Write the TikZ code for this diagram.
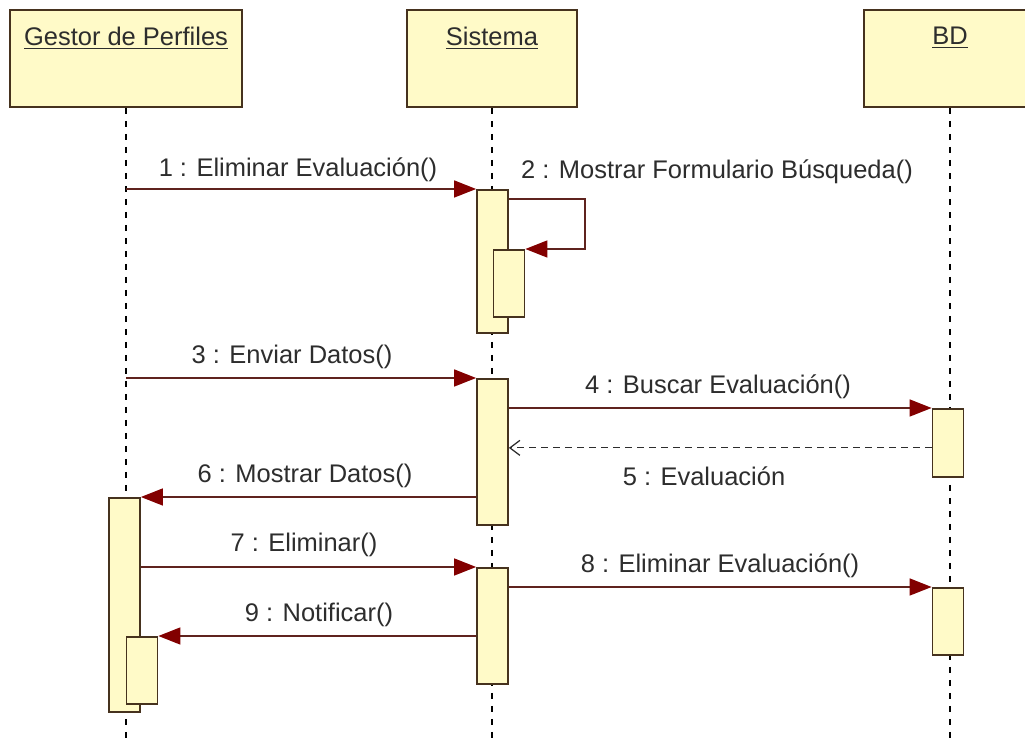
\documentclass[tikz,border=0pt]{standalone}
\usepackage{fontspec}
\setmainfont{Liberation Sans}
\usetikzlibrary{arrows.meta}
\usetikzlibrary{positioning}

\definecolor{boxfill}{RGB}{255,250,200}
\definecolor{boxline}{RGB}{70,50,30}
\definecolor{msgline}{RGB}{95,35,30}
\definecolor{tipred}{RGB}{130,0,0}
\definecolor{txt}{RGB}{45,45,45}

\tikzset{
	head/.style={draw=boxline, fill=boxfill, line width=1.1pt, minimum height=1.94cm, inner sep=0pt},
	headtext/.style={font=\fontsize{14.5}{16}\selectfont, text=txt, inner sep=1pt},
	act/.style={draw=boxline, fill=boxfill, line width=1pt, minimum width=0.62cm, inner sep=0pt, anchor=north},
	life/.style={line width=0.9pt, dash pattern=on 0.13cm off 0.13cm},
	msg/.style={draw=msgline, line width=0.8pt, -{Triangle[length=0.44cm, width=0.34cm, fill=tipred, color=tipred]}},
	ret/.style={draw=txt, line width=0.7pt, dash pattern=on 0.14cm off 0.1cm, -{Straight Barb[length=0.2cm, width=0.3cm]}},
	lbl/.style={font=\fontsize{14.5}{16}\selectfont, text=txt, inner sep=0pt}
}

\begin{document}
\begin{tikzpicture}[x=0.02cm, y=-0.02cm]

	\useasboundingbox (0,0) rectangle (1025,742);

	% objects
	\node[head, minimum width=4.64cm] (gp) at (126,58.5) {};
	\node[head, minimum width=3.4cm] (sis) at (492,58.5) {};
	\node[head, minimum width=3.44cm] (bd) at (950,58.5) {};
	\node[headtext] (gpt) at (126,38) {\underline{Gestor de Perfiles}};
	\node[headtext] (sist) at (492,38) {\underline{Sistema}};
	\node[headtext] (bdt) at (950,38) {\underline{BD}};

	% lifelines
	\draw[life] (gp.south) -- (gp.south |- 0,742);
	\draw[life] (sis.south) -- (sis.south |- 0,742);
	\draw[life] (bd.south) -- (bd.south |- 0,742);

	% activations
	\node[act, minimum height=2.86cm] (s1) at (492.5,189) {};
	\node[act, minimum height=1.34cm] (s1b) at (509,249) {};
	\node[act, minimum height=2.92cm] (s2) at (492.5,378) {};
	\node[act, minimum height=2.32cm] (s3) at (492.5,567) {};
	\node[act, minimum height=1.36cm] (b1) at (948,408) {};
	\node[act, minimum height=1.34cm] (b2) at (948,587) {};
	\node[act, minimum height=4.28cm] (g1) at (124.5,497) {};
	\node[act, minimum height=1.34cm] (g1b) at (142,636) {};

	% messages
	\draw[msg] (gp.south |- s1.north west) -- (s1.north west);
	\draw[msg] ([yshift=-0.2cm]s1.north east) -- ++(76,0) |- (s1b.north east);
	\draw[msg] (gp.south |- s2.north west) -- (s2.north west);
	\draw[msg] (s2.east |- b1.north west) -- (b1.north west);
	\draw[ret] ([yshift=-0.1cm]b1.west) coordinate (r5) -- (s2.east |- r5);
	\draw[msg] (s2.west |- g1.north east) -- (g1.north east);
	\draw[msg] (g1.east |- s3.north west) -- (s3.north west);
	\draw[msg] (s3.east |- b2.north west) -- (b2.north west);
	\draw[msg] (s3.west |- g1b.north east) -- (g1b.north east);

	% labels
	\node[lbl] (l1) at (298,170) {1 : Eliminar Evaluación()};
	\node[lbl] (l2) at (717,172) {2 : Mostrar Formulario Búsqueda()};
	\node[lbl] (l3) at (292,357) {3 : Enviar Datos()};
	\node[lbl] (l4) at (718,387) {4 : Buscar Evaluación()};
	\node[lbl] (l5) at (704,476) {5 : Evaluación};
	\node[lbl] (l6) at (305,476) {6 : Mostrar Datos()};
	\node[lbl] (l7) at (304,545) {7 : Eliminar()};
	\node[lbl] (l8) at (720,566) {8 : Eliminar Evaluación()};
	\node[lbl] (l9) at (319,615) {9 : Notificar()};

\end{tikzpicture}
\end{document}
